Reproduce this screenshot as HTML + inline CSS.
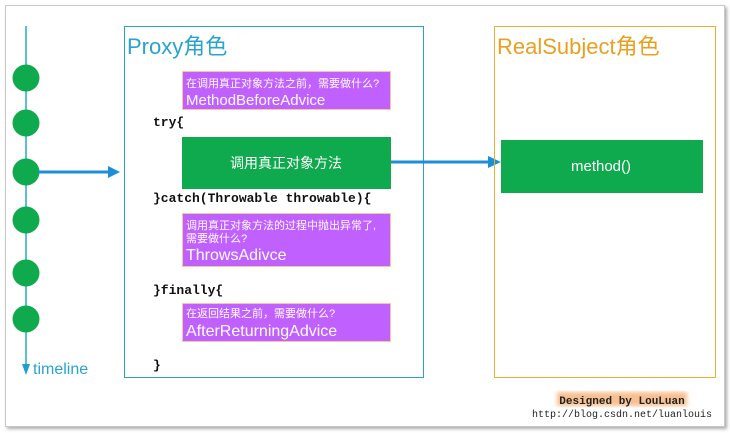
<!DOCTYPE html>
<html><head><meta charset="utf-8"><style>
html,body{margin:0;padding:0;background:#fff;}
svg{display:block}
.cn{font-family:"Liberation Sans","Noto Sans CJK SC",sans-serif;}
.mono{font-family:"Liberation Mono","DejaVu Sans Mono",monospace;font-weight:bold;}
</style></head><body>
<svg width="730" height="433" viewBox="0 0 730 433" xmlns="http://www.w3.org/2000/svg">
<defs>
<filter id="sh" x="-5%" y="-5%" width="110%" height="110%"><feDropShadow dx="2" dy="2" stdDeviation="1.5" flood-color="#888" flood-opacity="0.7"/></filter>
<filter id="glow"><feGaussianBlur stdDeviation="2"/></filter>
</defs>
<rect x="5.5" y="5.5" width="719" height="421" fill="#fff" stroke="#c8c8c8" filter="url(#sh)"/>
<line x1="26" y1="26" x2="26" y2="366" stroke="#5bc0d0" stroke-width="2"/>
<polygon points="22,364 30,364 26,375" fill="#1d9fd0"/>
<g fill="#0faa4e">
<circle cx="26" cy="78" r="13.5"/><circle cx="26" cy="123" r="13.5"/><circle cx="26" cy="172" r="13.5"/>
<circle cx="26" cy="220" r="13.5"/><circle cx="26" cy="273" r="13.5"/><circle cx="26" cy="319" r="13.5"/>
</g>
<text x="33" y="374" class="cn" font-size="16" fill="#2aa3cf">timeline</text>
<line x1="38" y1="172" x2="110" y2="172" stroke="#1e8fd6" stroke-width="3"/>
<polygon points="108,166 120,172 108,178" fill="#1e8fd6"/>
<rect x="124.5" y="26.5" width="299" height="351" fill="none" stroke="#2aa3c8"/>
<text x="127" y="54" class="cn" font-size="22" fill="#2aa3cf">Proxy角色</text>
<rect x="182.5" y="71.5" width="208" height="38" fill="#c060ff" stroke="#f6c89a"/>
<text x="186" y="87" class="cn" font-size="11" fill="#fff">在调用真正对象方法之前，需要做什么?</text>
<text x="186" y="105" class="cn" font-size="15" fill="#fff">MethodBeforeAdvice</text>
<text x="153" y="126" class="mono" font-size="13" fill="#111">try{</text>
<rect x="182" y="137" width="209" height="52" fill="#0faa4e"/>
<text x="286" y="168" class="cn" font-size="14" fill="#fff" text-anchor="middle">调用真正对象方法</text>
<text x="153" y="202" class="mono" font-size="13" fill="#111">}catch(Throwable throwable){</text>
<rect x="182.5" y="213.5" width="208" height="53" fill="#c060ff" stroke="#f6c89a"/>
<text x="186" y="229" class="cn" font-size="11" fill="#fff">调用真正对象方法的过程中抛出异常了,</text>
<text x="186" y="242" class="cn" font-size="11" fill="#fff">需要做什么?</text>
<text x="186" y="260" class="cn" font-size="16" fill="#fff">ThrowsAdivce</text>
<text x="153" y="294" class="mono" font-size="13" fill="#111">}finally{</text>
<rect x="182.5" y="303.5" width="208" height="38" fill="#c060ff" stroke="#f6c89a"/>
<text x="186" y="317" class="cn" font-size="11" fill="#fff">在返回结果之前，需要做什么?</text>
<text x="186" y="336" class="cn" font-size="16" fill="#fff">AfterReturningAdvice</text>
<text x="153" y="369" class="mono" font-size="13" fill="#111">}</text>
<line x1="391" y1="162" x2="490" y2="162" stroke="#1e8fd6" stroke-width="3"/>
<polygon points="488,156 501,162 488,168" fill="#1e8fd6"/>
<rect x="494.5" y="26.5" width="221" height="351" fill="none" stroke="#e8b030"/>
<text x="497" y="54" class="cn" font-size="22" fill="#e8a020">RealSubject角色</text>
<rect x="501" y="140" width="202" height="53" fill="#0faa4e"/>
<text x="601" y="171" class="cn" font-size="15" fill="#fff" text-anchor="middle">method()</text>
<rect x="557" y="392" width="130" height="14" fill="#f8c090" filter="url(#glow)"/>
<text x="622" y="404" class="mono" font-size="11" fill="#222" text-anchor="middle">Designed by LouLuan</text>
<text x="622" y="417" font-family="Liberation Mono,monospace" font-size="10" fill="#222" text-anchor="middle">http://blog.csdn.net/luanlouis</text>
</svg>
</body></html>
